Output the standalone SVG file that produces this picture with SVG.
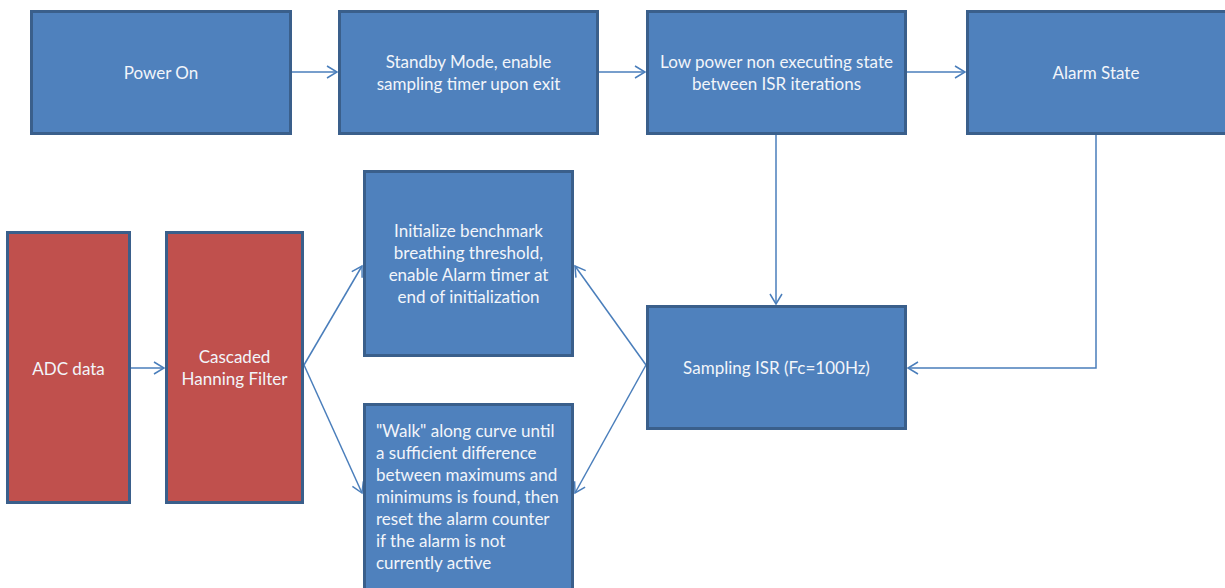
<svg xmlns="http://www.w3.org/2000/svg" width="1225" height="588" viewBox="0 0 1225 588">
<style>
.b{fill:#4f81bd;stroke:#3a5f8b;stroke-width:3}
.r{fill:#c0504d;stroke:#3a5f8b;stroke-width:3}
text{font-family:Lato,"Open Sans",sans-serif;font-size:17px;fill:#f2f5fa}
.c{text-anchor:middle}
.e{fill:none;stroke:#4a7ebb;stroke-width:1.5;marker-end:url(#a)}
</style>
<defs>
<marker id="a" markerUnits="userSpaceOnUse" markerWidth="14" markerHeight="14" refX="11" refY="7" orient="auto">
<path d="M1,1 L11,7 L1,13" fill="none" stroke="#4a7ebb" stroke-width="1.5"/>
</marker>
</defs>
<rect width="1225" height="588" fill="#ffffff"/>
<g id="connectors">
<path class="e" d="M292,72 H337"/>
<path class="e" d="M599,72 H645"/>
<path class="e" d="M907,72 H965"/>
<path class="e" d="M776,135 V304"/>
<path class="e" d="M1096,135 V368 H908"/>
<path class="e" d="M131,368 H164"/>
<path class="e" d="M304,365 L362,266"/>
<path class="e" d="M304,365 L362,493"/>
<path class="e" d="M646,365 L575,266"/>
<path class="e" d="M646,365 L575,493"/>
</g>
<g id="power-on"><rect class="b" x="31.5" y="11.5" width="259" height="122"/><text class="c" x="161" y="78.5">Power On</text></g>
<g id="standby"><rect class="b" x="339.5" y="11.5" width="258" height="122"/><text class="c" x="468.5" y="67.5">Standby Mode, enable</text><text class="c" x="468.5" y="89.5">sampling timer upon exit</text></g>
<g id="low-power"><rect class="b" x="647.5" y="11.5" width="258" height="122"/><text class="c" x="776.5" y="67.5">Low power non executing state</text><text class="c" x="776.5" y="89.5">between ISR iterations</text></g>
<g id="alarm-state"><rect class="b" x="967.5" y="11.5" width="262" height="122"/><text class="c" x="1096" y="78.5">Alarm State</text></g>
<g id="sampling-isr"><rect class="b" x="647.5" y="306.5" width="258" height="122"/><text class="c" x="776.5" y="373.5">Sampling  ISR (Fc=100Hz)</text></g>
<g id="initialize"><rect class="b" x="364.5" y="171.5" width="208" height="184"/><text class="c" x="468.5" y="236.5">Initialize benchmark</text><text class="c" x="468.5" y="258.5">breathing threshold,</text><text class="c" x="468.5" y="280.5">enable Alarm timer at</text><text class="c" x="468.5" y="302.5">end of initialization</text></g>
<g id="walk"><rect class="b" x="364.5" y="404.5" width="208" height="190"/><text x="376" y="436.5">"Walk" along curve until</text><text x="376" y="458.5">a sufficient difference</text><text x="376" y="480.5">between maximums and</text><text x="376" y="502.5">minimums is found, then</text><text x="376" y="524.5">reset the alarm counter</text><text x="376" y="546.5">if the alarm is not</text><text x="376" y="568.5">currently active</text></g>
<g id="adc-data"><rect class="r" x="7.5" y="232.5" width="122" height="270"/><text class="c" x="68.5" y="374.5">ADC data</text></g>
<g id="hanning"><rect class="r" x="166.5" y="232.5" width="136" height="270"/><text class="c" x="234.5" y="362.5">Cascaded</text><text class="c" x="234.5" y="384.5">Hanning Filter</text></g>
</svg>
